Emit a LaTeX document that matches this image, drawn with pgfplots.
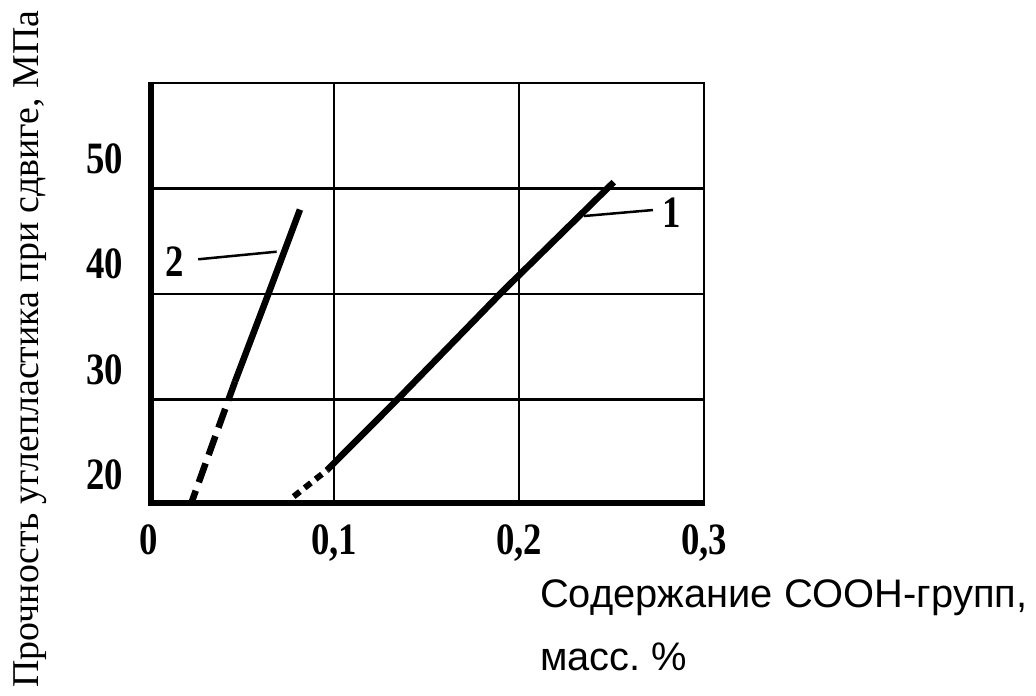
\documentclass[border=0pt]{standalone}
\usepackage{fontspec}
\setmainfont{Liberation Serif}
\newfontfamily\sansf{Liberation Sans}
\newfontfamily\tickf[FakeStretch=0.82]{Liberation Serif}
\usepackage{pgfplots}
\pgfplotsset{compat=1.18}
\begin{document}
\begin{tikzpicture}
\useasboundingbox (-149bp,-191bp) rectangle (887bp,505bp);
\begin{axis}[
  at={(0,0)}, anchor=south west,
  scale only axis, width=555bp, height=422bp,
  xmin=0, xmax=0.3, ymin=20, ymax=60,
  xtick={0,0.1,0.2,0.3}, xticklabels={0,{0,1},{0,2},{0,3}},
  ytick={20,30,40,50}, yticklabels={20,30,40,50},
  major tick length=0pt,
  grid=major,
  major grid style={black, line width=2.5bp},
  axis line style={black, line width=2.5bp},
  ticklabel style={font=\tickf\fontsize{45}{47}\selectfont\bfseries, inner sep=0pt},
  xticklabel style={yshift=-19bp},
  yticklabel style={xshift=-26bp, yshift=30bp},
]
\addplot[black, line width=6bp, dash pattern=on 8bp off 6bp] coordinates {(0.0782,20.8) (0.0962,23.3)};
\addplot[black, line width=6.5bp] coordinates {(0.0962,23.3) (0.1348,30.1) (0.1914,40.3) (0.2512,50.6)};
\addplot[black, line width=6.5bp] coordinates {(0.0465,31.7) (0.0645,40.0) (0.0816,48.0)};
\addplot[black, line width=6.5bp, dash pattern=on 20bp off 9bp] coordinates {(0.0465,31.7) (0.0225,20)};
\addplot[black, line width=2.5bp] coordinates {(0.0266,43.29) (0.069,44.01)};
\addplot[black, line width=2.5bp] coordinates {(0.2351,47.39) (0.2724,47.96)};
\node[font=\tickf\fontsize{45}{47}\selectfont\bfseries] at (axis cs:0.0141,43.06) {2};
\node[font=\tickf\fontsize{45}{47}\selectfont\bfseries] at (axis cs:0.2827,47.68) {1};
\draw[black, line width=10bp] (rel axis cs:0,1) -- (rel axis cs:0,0) -- (rel axis cs:1,0);
\end{axis}
\node[rotate=90, font=\fontsize{38}{40}\selectfont] at (-119bp,156bp) {Прочность углепластика при сдвиге, МПа};
\node[anchor=base west, inner sep=0pt, font=\sansf\fontsize{40}{44}\selectfont] at (391bp,-102bp) {Содержание COOH-групп,};
\node[anchor=base west, inner sep=0pt, font=\sansf\fontsize{40}{44}\selectfont] at (391bp,-165bp) {масс.~\%};
\end{tikzpicture}
\end{document}
